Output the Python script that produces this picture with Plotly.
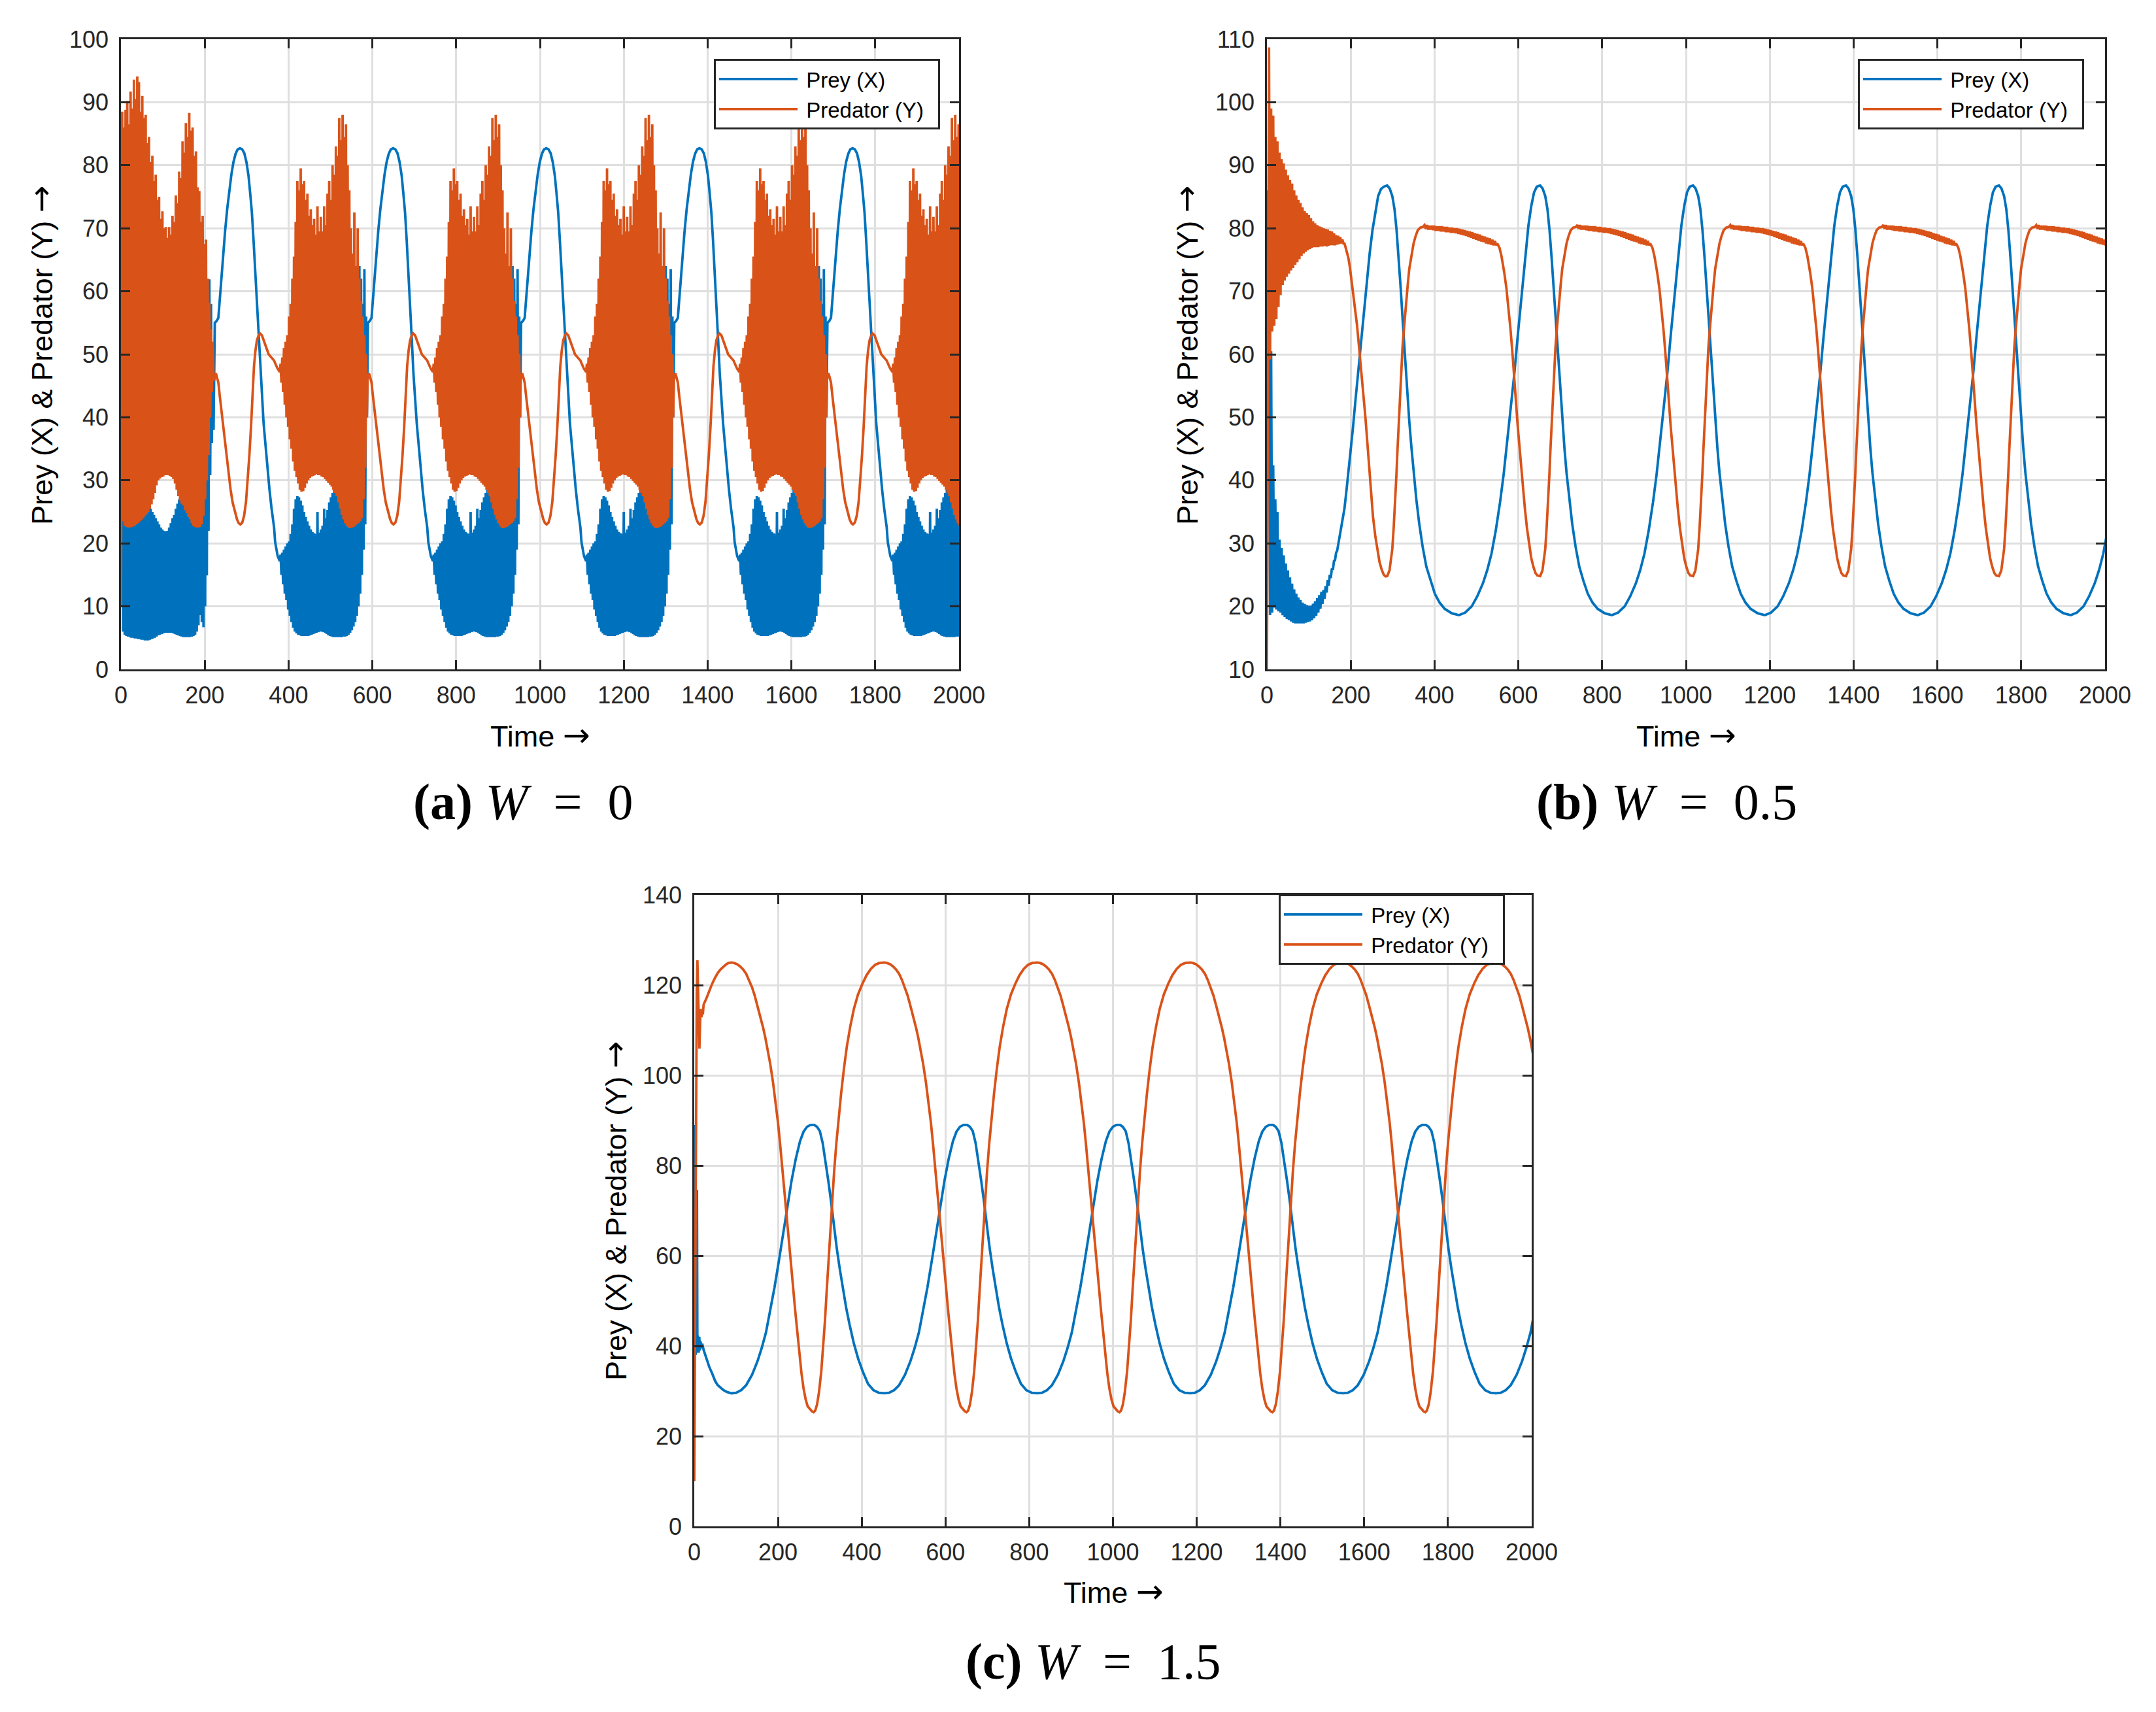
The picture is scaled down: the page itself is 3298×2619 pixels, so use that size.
import plotly.graph_objects as go

W, H = 3298, 2619
BLUE, ORANGE = "#0072BD", "#D95319"
AXC = "#262626"
GRID = "#dfdfdf"
SANS = "Liberation Sans, Arial, Helvetica, sans-serif"
SERIF = "Liberation Serif, Times New Roman, serif"

# ======================= (a) W = 0 =======================
a_period = 365.5
a_start_t = [0, 1]
a_start_prey = [25, 81]
a_start_pred = [10, 40]
a_burst_dt = 2
a_burst1_t0 = 3
a_burst1_prey = [53, 6, 29.5, 5.5, 28, 5.3, 27.5, 5.2, 27.2, 5.1,
                 27, 5, 29.5, 5, 27, 4.9, 26.8, 4.9, 27, 4.8,
                 26.8, 4.8, 26.5, 4.7, 27, 4.7, 26.5, 4.6, 26.2, 4.6,
                 26, 4.6, 25.8, 4.7, 25.5, 4.8, 25, 4.9, 24.5, 5,
                 24, 5.2, 23.5, 5.4, 23, 5.5, 22.5, 5.6, 22.2, 5.7,
                 22, 5.8, 21.9, 5.8, 22, 5.8, 22.5, 5.8, 23.2, 5.8,
                 24, 5.7, 24.5, 5.6, 25.5, 5.5, 26.3, 5.4, 27, 5.3,
                 27.8, 5.2, 28.5, 5.1, 30, 5.1, 29.5, 5.1, 36, 5.1,
                 31, 5.1, 40, 5.2, 43, 5.3, 55.5, 5.5, 38, 6,
                 47, 7, 56.8, 8.6, 45, 7.5, 58, 6.7, 63.8, 10,
                 61.9, 14.9, 60, 22, 61.9, 30.8, 58, 35.9, 50, 38]
a_burst1_pred = [88.5, 23.5, 86, 22.8, 88.8, 22.6, 90.2, 22.5, 86.5, 22.5,
                 91.7, 22.6, 89, 22.7, 93.6, 22.8, 90.5, 23, 94.1, 23.2,
                 93.2, 23.5, 88.5, 23.7, 91, 24, 87.5, 24.3, 88, 24.6,
                 83.5, 25, 84.5, 25.5, 80.5, 26.2, 81.5, 27, 77.5, 28,
                 78.5, 29.2, 74.5, 30, 75, 30.3, 71.5, 30.5, 72.7, 30.6,
                 70, 30.8, 70.2, 30.8, 68.5, 30.8, 70.2, 30.7, 69, 30.5,
                 72, 30.2, 71, 29.5, 75.2, 28.5, 74, 27.5, 79, 26.8,
                 78, 26.3, 83.8, 26, 82, 25.3, 86.7, 24.8, 84.5, 24.2,
                 88.3, 23.8, 85.5, 23.2, 86, 22.8, 81.5, 22.6, 82.2, 22.5,
                 76.5, 22.5, 75.9, 22.6, 71, 23, 72, 24.4, 67.5, 27,
                 68.2, 30, 62, 34, 58.1, 40, 54, 44, 52, 46]
# one full cycle as read on the 2nd cycle (t = 365.5 ... 730)
a_cyc_pre_t = [365.5, 368, 371, 374, 377, 379]
a_cyc_pre_prey = [22.5, 20.2, 18.9, 18.0, 17.5, 17.2]
a_cyc_pre_pred = [49.0, 48.6, 48.1, 47.7, 47.4, 47.2]
a_cyc_burst_t0 = 381
a_cyc_burst_prey = [18.2, 15, 18.5, 13.5, 19, 12, 19.5, 11, 20, 9.5,
                    20.3, 8.5, 21.5, 7.5, 23, 6.6, 25.5, 6, 27, 5.7,
                    27.5, 5.5, 27.3, 5.4, 26.8, 5.3, 26, 5.3, 25, 5.3,
                    24.2, 5.3, 23.5, 5.3, 22.8, 5.4, 22.2, 5.5, 21.8, 5.6,
                    21.6, 5.7, 21.5, 5.8, 25, 5.9, 21.7, 6, 22.2, 6,
                    22.8, 5.9, 25.5, 5.8, 24, 5.6, 25.3, 5.4, 26.5, 5.3,
                    27.3, 5.2, 28, 5.1, 28.8, 5.1, 30, 5.1, 30.5, 5.1,
                    31.5, 5.1, 45, 5.1, 32.5, 5.2, 50, 5.2, 33.5, 5.3,
                    38, 5.5, 53.5, 5.8, 40, 6.2, 56, 6.8, 45, 7.5,
                    58, 8.5, 48, 10, 64, 12, 62, 15, 58, 19,
                    63.5, 23, 56, 40]
a_cyc_burst_pred = [48.5, 45.5, 49.5, 44, 51, 42, 52, 40, 53, 38.5,
                    56, 36.5, 58, 35, 62, 33, 65.5, 31.5, 71, 30.5,
                    77.5, 29.5, 76, 28.5, 79.5, 28.2, 77, 28.3, 77.5, 28.8,
                    74.5, 29.5, 75.5, 30, 72, 30.4, 73, 30.6, 70.5, 30.7,
                    71.5, 30.8, 69, 31, 73.5, 30.8, 69.5, 30.8, 71.8, 30.6,
                    69.5, 30.5, 73.5, 30.2, 70.5, 29.9, 75.5, 29.6, 77.5, 29.3,
                    74.5, 29, 80, 28.5, 78.5, 28, 83, 27.5, 81.5, 26.5,
                    87.5, 25.5, 84, 24.5, 88, 23.8, 84.5, 23.2, 86.5, 22.8,
                    80, 22.5, 76, 22.4, 70, 22.5, 66, 22.6, 72.5, 22.8,
                    64, 23, 70, 23.2, 62, 23.5, 58.5, 24, 56, 27,
                    53, 32, 50, 40]
a_cyc_post_prey_t = [589.5, 594, 598, 601, 605, 609, 614, 619, 624, 629,
                     634, 639, 644, 649.5, 655, 660, 665, 670, 674, 678,
                     682, 686, 690, 694, 698, 702, 706, 710, 715, 720, 725, 730]
a_cyc_post_prey = [55.0, 55.3, 55.8, 58.5, 62.5, 66, 69.5, 73, 76, 78.5,
                   80.5, 81.8, 82.5, 82.7, 82.5, 81.9, 80.5, 78.3, 75.5, 72.5,
                   68, 63.2, 58, 52.5, 47, 42.5, 39, 36, 32, 28.5, 25.5, 23.1]
a_cyc_post_pred_t = [588.5, 592, 595, 598, 601.5, 605, 608.5, 612, 615.5, 619,
                     622, 627, 632, 637, 642.5, 646.5, 650.5, 655, 659.5, 664,
                     668, 672, 676, 679.5, 683, 686.5, 690, 694, 697.5, 702,
                     706, 710, 714, 718, 722, 726, 730]
a_cyc_post_pred = [46.0, 47.0, 46.3, 45.5, 43.3, 41.3, 39.3, 37.2, 35.2, 33.2,
                   31.2, 28.6, 26.5, 25, 23.8, 23.2, 23.0, 23.3, 24.4, 26.6,
                   29.8, 34, 38.6, 43.5, 48.1, 50.6, 52.2, 53.0, 53.3, 53.0,
                   52.2, 51.3, 50.6, 50.0, 49.7, 49.4, 49.1]

# ======================= (b) W = 0.5 =======================
b_period = 365
b_init_t = [0, 1.2]
b_init_prey = [22, 86]
b_init_pred = [10, 35]
b_trans_t0 = 2.5
b_trans_dt = 2.5
b_trans_prey = [40, 65.5, 18.6, 60.5, 19, 42.4, 19.8, 37, 19.5, 35,
                19.2, 30.6, 19, 29.3, 18.6, 28.1, 18.3, 26.8, 18, 25.7,
                17.8, 24.6, 17.6, 23.6, 17.4, 22.7, 17.3, 22, 17.3, 21.4,
                17.3, 21, 17.3, 20.6, 17.3, 20.4, 17.4, 20.2, 17.5, 20.1,
                17.6, 20.1, 17.8, 20.4, 18.1, 20.8, 18.5, 21.3, 19, 21.8,
                19.6, 22.3, 20.4, 22.6, 21.2, 23.2, 22.2, 24.2, 23.3, 25,
                24.5, 26, 25.8, 27.2, 27.3, 28.5, 28.8, 29.8, 30.6, 31.5,
                32.4, 33.5, 34.4, 35.5]
b_trans_pred = [60, 108.7, 59.2, 99, 63.6, 97.9, 64.5, 94.5, 65.6, 93.8,
                67.5, 92, 69.4, 91, 71, 90.3, 71.7, 89.3, 72.3, 88.4,
                72.8, 87.7, 73.3, 87.1, 73.7, 86, 74.2, 85.2, 74.6, 84.5,
                75.1, 84, 75.6, 83.3, 76, 82.7, 76.3, 82.4, 76.5, 82.1,
                76.7, 81.6, 76.9, 81.1, 77, 80.8, 77, 80.5, 77, 80.3,
                77.1, 80.2, 77.1, 80, 77.2, 79.9, 77.1, 79.8, 77.2, 79.6,
                77.3, 79.5, 77.3, 79.2, 77.3, 78.9, 77.4, 78.8, 77.5, 78.6,
                77.6, 78.2, 77.6, 77.6]
b_pre_prey_t = [190, 197.8, 204.5, 211.3, 218, 224.8, 231.5, 238.3, 245, 251.9,
                258.7, 265.4, 272, 278.9]
b_pre_prey = [38.5, 43.2, 47.8, 52.7, 57.4, 62.1, 66.9, 71.6, 75.9, 79.7,
              82.6, 85.1, 86.2, 86.6]
b_pre_pred_t = [187.6, 191, 194.4, 198, 201, 204.5, 208, 211.5, 214.7, 218,
                221.5, 225, 228.2, 231.5, 235, 238.5, 241.8, 245, 248.5, 253,
                258.7, 264, 268.8, 274, 279, 283]
b_pre_pred = [77, 76.2, 75.3, 73.8, 72.2, 70.5, 68.9, 66.9, 64.8, 62.5,
              60.1, 57.7, 55.4, 52.8, 50, 47, 43.9, 40.8, 37.8, 34.3,
              31.1, 28.6, 27, 25.8, 25, 24.75]
# one full cycle (t = 287 ... 651)
b_cyc_prey_t = [287, 293, 299.2, 304.5, 309.4, 314.5, 319.5, 324.5, 329.7, 334.8,
                339.8, 345, 350, 356.5, 363.5, 371.5, 380.4, 390.5, 400.7, 412,
                424.4, 441, 458.2, 473, 488.7, 502, 515.7, 526, 536, 546,
                556.3, 565, 573.2, 581.5, 590.1, 598.5, 607, 615.5, 624, 631,
                637.5, 644]
b_cyc_prey = [86.8, 86.3, 85.1, 83, 79.7, 75.2, 70.2, 64.8, 59.4, 54.2,
              49.3, 45.1, 41.2, 37, 33.1, 29.5, 26.3, 24, 22, 20.6,
              19.6, 18.9, 18.6, 19, 20, 21.6, 23.7, 25.8, 28.4, 32,
              36.5, 41, 45.9, 51.2, 56.7, 62.9, 68.9, 74.8, 80.4, 83.6,
              85.7, 86.6]
b_cyc_rise_t = [287, 292.5, 296, 299.2, 302.5, 306, 309, 311.4, 314, 316.2,
                318.5, 320.9, 323.5, 326.3, 329.5, 333, 336.5, 339.8, 345, 350,
                355, 360.1, 366, 372]
b_cyc_rise_pred = [24.8, 25.7, 27.2, 29.1, 32.5, 36.5, 40.8, 44.6, 48.3, 51.3,
                   54.8, 58.1, 61, 63.5, 66.3, 68.9, 71.4, 73.6, 75.8, 77.6,
                   78.8, 79.7, 80.1, 80.2]
b_plateau_t0 = 376
b_plateau_dt = 3
b_plateau_pred = [80.5, 79.9, 80.5, 79.8, 80.4, 79.8, 80.4, 79.7, 80.4, 79.6,
                  80.3, 79.6, 80.3, 79.5, 80.3, 79.5, 80.2, 79.4, 80.2, 79.4,
                  80.1, 79.3, 80.1, 79.3, 80.0, 79.2, 80.0, 79.1, 79.9, 79.0,
                  79.8, 78.9, 79.7, 78.8, 79.6, 78.6, 79.5, 78.5, 79.4, 78.3,
                  79.2, 78.2, 79.1, 78.0, 79.0, 77.9, 78.8, 77.8, 78.7, 77.6,
                  78.5, 77.5, 78.4, 77.4, 78.2, 77.3, 78.0, 77.3]
b_cyc_drop_t = [549.6, 555, 559.7, 563, 566.5, 571.5, 576.6, 581.5, 586.8, 590,
                593.5, 598.5, 603.7, 607, 610.4, 615.5, 620.6, 625.5, 630.7, 635.8,
                640.9, 645.3]
b_cyc_drop_pred = [77.6, 76.9, 75.6, 74.5, 72.9, 70.5, 67.5, 63.8, 59.4, 56.2,
                   52.7, 48.6, 44.6, 41.9, 39.2, 35.6, 32.4, 29.8, 27.7, 26.3,
                   25.3, 24.9]

# ======================= (c) W = 1.5 =======================
c_period = 365.2
c_pre_prey_t = [0, 1, 2, 3.5, 5, 6.5, 7.5, 9, 10.5, 12,
                13.5, 15, 17, 19, 22.4, 30, 36, 42.7, 50, 56,
                63, 70, 78, 84]
c_pre_prey = [16, 89, 50, 38, 55, 74.6, 38.5, 42.3, 38.5, 42,
              39, 41, 39.5, 40.5, 39.1, 37, 35.3, 33.9, 32.2, 31.3,
              30.7, 30.2, 29.8, 29.6]
c_pre_pred_t = [0, 1.5, 3, 4.5, 6, 7.5, 9, 10.5, 12.3, 14,
                15.6, 17.2, 19, 20.5, 22.4, 29.2, 36, 42.7, 49.5, 56.3,
                63, 69.8, 76, 82]
c_pre_pred = [10, 40, 75, 100, 118, 125.5, 118, 110, 105.9, 112,
              114.7, 112.9, 114.5, 113.5, 115.7, 117.1, 118.8, 120.3, 121.6, 122.7,
              123.5, 124.1, 124.6, 124.9]
# one full cycle (t = 88.8 ... 453)
c_cyc_prey_t = [88.8, 100, 112, 124, 138, 151, 161, 171.3, 181.5, 191.7,
                202, 212, 222, 232.3, 242.5, 252.6, 261, 269.5, 278, 286.4,
                293, 300, 306.7, 313.5, 320.3, 327, 333.8, 340.6, 347.3, 354,
                362.5, 371, 381, 391.4, 403, 415, 428, 441, 450]
c_cyc_prey = [29.5, 29.6, 30.2, 31.3, 33.6, 36.6, 39.5, 43, 47.8, 53,
              58.8, 64.8, 70.8, 76.6, 81.5, 85.4, 87.5, 88.6, 89, 89,
              88.6, 87.6, 85, 81.1, 76.5, 71.8, 66.5, 61.5, 57.2, 53.1,
              48.6, 44.7, 40.6, 37.2, 34.2, 31.6, 30.2, 29.6, 29.5]
c_cyc_pred_t = [88.8, 95, 103, 110, 117.2, 124, 131, 138, 144.3, 151,
                158, 164.6, 170, 175.5, 181.5, 188, 195, 200, 205.2, 210.3,
                215.4, 220.5, 225.5, 230.6, 235.7, 240.8, 245.8, 251, 256, 261,
                266.1, 271, 276.3, 281, 285, 289, 293.2, 298, 303.4, 308,
                312.2, 316.3, 320.3, 324.7, 329.1, 334, 339.2, 345, 350.8, 357.5,
                364.3, 372.5, 381.2, 391, 401.5, 411.5, 421.8, 432, 442]
c_cyc_pred = [125, 124.9, 124.6, 124.1, 123.4, 122.5, 121.1, 119.5, 117.7, 115.4,
              113, 110.5, 108.2, 105.6, 102.5, 98.5, 93.8, 89.5, 84.6, 79.6,
              74.5, 69.3, 64, 58.7, 53.4, 48.1, 43, 38.2, 34, 30.6,
              28.1, 26.6, 25.9, 25.5, 25.3, 25.7, 27, 29.8, 34.4, 39.8,
              45.6, 52.2, 58.7, 65.4, 71.8, 78.6, 84.8, 90.8, 96, 101.5,
              106.3, 110.8, 114.7, 117.9, 120.3, 122.2, 123.6, 124.5, 124.9]

x_ticks = [0, 200, 400, 600, 800, 1000, 1200, 1400, 1600, 1800, 2000]
series_names = ["Prey (X)", "Predator (Y)"]


# ---------------------------------------------------------------
def seq(t0, dt, n):
    return [t0 + dt * i for i in range(n)]


def tile(ts, vs, period, ncyc, tmax=2040):
    T, V = [], []
    for k in range(ncyc):
        for t, v in zip(ts, vs):
            if t + k * period <= tmax:
                T.append(t + k * period)
                V.append(v)
    return T, V


# (a) assemble
a_b1_t = seq(a_burst1_t0, a_burst_dt, len(a_burst1_prey))
a_cb_t = seq(a_cyc_burst_t0, a_burst_dt, len(a_cyc_burst_prey))
a_cyc_prey_t = a_cyc_pre_t + a_cb_t + a_cyc_post_prey_t
a_cyc_prey_v = a_cyc_pre_prey + a_cyc_burst_prey + a_cyc_post_prey
a_cyc_pred_t = a_cyc_pre_t + a_cb_t + a_cyc_post_pred_t
a_cyc_pred_v = a_cyc_pre_pred + a_cyc_burst_pred + a_cyc_post_pred
tp, vp = tile(a_cyc_prey_t, a_cyc_prey_v, a_period, 5)
aX_t = a_start_t + a_b1_t + [t - a_period for t in a_cyc_post_prey_t] + tp
aX_v = a_start_prey + a_burst1_prey + a_cyc_post_prey + vp
tq, vq = tile(a_cyc_pred_t, a_cyc_pred_v, a_period, 5)
aY_t = a_start_t + a_b1_t + [t - a_period for t in a_cyc_post_pred_t] + tq
aY_v = a_start_pred + a_burst1_pred + a_cyc_post_pred + vq

# (b) assemble
b_tr_t = seq(b_trans_t0, b_trans_dt, len(b_trans_prey))
tp, vp = tile(b_cyc_prey_t, b_cyc_prey, b_period, 5)
bX_t = b_init_t + b_tr_t + b_pre_prey_t + tp
bX_v = b_init_prey + b_trans_prey + b_pre_prey + vp
b_pl_t = seq(b_plateau_t0, b_plateau_dt, len(b_plateau_pred))
b_cyc_pred_t = b_cyc_rise_t + b_pl_t + b_cyc_drop_t
b_cyc_pred_v = b_cyc_rise_pred + b_plateau_pred + b_cyc_drop_pred
tq, vq = tile(b_cyc_pred_t, b_cyc_pred_v, b_period, 5)
bY_t = b_init_t + b_tr_t + b_pre_pred_t + tq
bY_v = b_init_pred + b_trans_pred + b_pre_pred + vq

# (c) assemble
tp, vp = tile(c_cyc_prey_t, c_cyc_prey, c_period, 6)
cX_t = c_pre_prey_t + tp
cX_v = c_pre_prey + vp
tq, vq = tile(c_cyc_pred_t, c_cyc_pred, c_period, 6)
cY_t = c_pre_pred_t + tq
cY_v = c_pre_pred + vq

LW = 3.8
fig = go.Figure()
panels = [("x", "y", "legend", aX_t, aX_v, aY_t, aY_v),
          ("x2", "y2", "legend2", bX_t, bX_v, bY_t, bY_v),
          ("x3", "y3", "legend3", cX_t, cX_v, cY_t, cY_v)]
for xa, ya, lg, xt, xv, yt, yv in panels:
    fig.add_trace(go.Scatter(x=xt, y=xv, mode="lines",
                             name="\u2005" + series_names[0] + "\u2002",
                             line=dict(color=BLUE, width=LW), xaxis=xa, yaxis=ya,
                             legend=lg))
    fig.add_trace(go.Scatter(x=yt, y=yv, mode="lines",
                             name="\u2005" + series_names[1] + "\u2002",
                             line=dict(color=ORANGE, width=LW), xaxis=xa, yaxis=ya,
                             legend=lg))

common = dict(showline=True, linecolor=AXC, linewidth=2.5, mirror="ticks",
              ticks="inside", ticklen=14, tickwidth=2.5, tickcolor=AXC,
              showgrid=True, gridcolor=GRID, gridwidth=2.5, zeroline=False,
              automargin=False,
              tickfont=dict(family=SANS, size=36, color=AXC))


def xax(domain, anchor):
    return dict(domain=domain, anchor=anchor, range=[0, 2000],
                tickvals=x_ticks, ticklabelstandoff=6, **common)


def yax(domain, anchor, rng, dt):
    return dict(domain=domain, anchor=anchor, range=rng, dtick=dt, tick0=0,
                ticklabelstandoff=9, **common)


ya_dom = [1 - 1024 / H, 1 - 60 / H]
yc_dom = [1 - 2335 / H, 1 - 1369 / H]
legend_common = dict(bgcolor="white", bordercolor=AXC, borderwidth=3,
                     font=dict(family=SANS, size=33, color="#000000"),
                     xanchor="right", yanchor="top", itemwidth=120,
                     tracegroupgap=0)

fig.update_layout(
    width=W, height=H, margin=dict(l=0, r=0, t=0, b=0),
    paper_bgcolor="white", plot_bgcolor="white",
    xaxis=xax([185 / W, 1467 / W], "y"),
    yaxis=yax(ya_dom, "x", [0, 100], 10),
    xaxis2=xax([1938 / W, 3220 / W], "y2"),
    yaxis2=yax(ya_dom, "x2", [10, 110], 10),
    xaxis3=xax([1062 / W, 2343 / W], "y3"),
    yaxis3=yax(yc_dom, "x3", [0, 140], 20),
    legend=dict(x=1438 / W, y=1 - 90 / H, **legend_common),
    legend2=dict(x=3188 / W, y=1 - 90 / H, **legend_common),
    legend3=dict(x=2302 / W, y=1 - 1368 / H, **legend_common),
    showlegend=True,
)

ARROW = "<span style='font-family:DejaVu Sans;font-size:50px'>\u2192</span>"
title_font = dict(family=SANS, size=45, color="#000000")
xtitles = [(826, 1125), (2579, 1125), (1703, 2435)]
ytitles = [(63, 543), (1815, 543), (941, 1852)]
for cx, cy in xtitles:
    fig.add_annotation(x=cx / W, y=1 - cy / H, xref="paper", yref="paper",
                       text="Time " + ARROW, showarrow=False,
                       xanchor="center", yanchor="middle", font=title_font)
for cx, cy in ytitles:
    fig.add_annotation(x=cx / W, y=1 - cy / H, xref="paper", yref="paper",
                       text="Prey (X) &amp; Predator (Y) " + ARROW, showarrow=False,
                       textangle=-90, xanchor="center", yanchor="middle",
                       font=title_font)

captions = [(800, 1226, "<b>(a)</b> <i>W</i>\u2002=\u20020"),
            (2549, 1226, "<b>(b)</b> <i>W</i>\u2002=\u20020.5"),
            (1672, 2541, "<b>(c)</b> <i>W</i>\u2002=\u20021.5")]
for cx, cy, txt in captions:
    fig.add_annotation(x=cx / W, y=1 - cy / H, xref="paper", yref="paper",
                       text=txt, showarrow=False, xanchor="center", yanchor="middle",
                       font=dict(family=SERIF, size=78, color="#000000"))

fig.write_html("out.html", config={"displayModeBar": False})
